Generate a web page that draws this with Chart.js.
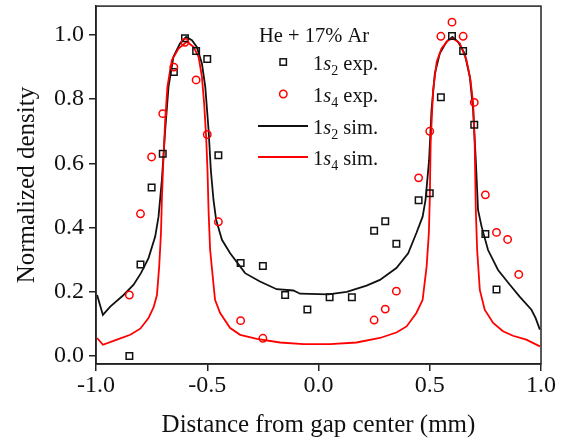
<!DOCTYPE html>
<html>
<head>
<meta charset="utf-8">
<script src="https://cdn.jsdelivr.net/npm/chart.js@4"></script>
<style>
  html, body { margin: 0; padding: 0; background: #fff; }
  #wrap { width: 572px; height: 444px; }
</style>
</head>
<body>
<div id="wrap"><canvas id="densityChart" width="572" height="444"></canvas></div>
<script>
// tick labels
const xTicks = [-1.0, -0.5, 0.0, 0.5, 1.0];
const yTicks = [0.0, 0.2, 0.4, 0.6, 0.8, 1.0];

// 1s2 exp. (squares)
const s2ExpX = [-0.85, -0.80, -0.75, -0.70, -0.65, -0.60, -0.55, -0.50, -0.45, -0.35, -0.25, -0.15, -0.05,
  0.05, 0.15, 0.25, 0.30, 0.35, 0.45, 0.50, 0.55, 0.60, 0.65, 0.70, 0.75, 0.80];
const s2ExpY = [0.00, 0.285, 0.525, 0.63, 0.885, 0.99, 0.95, 0.925, 0.625, 0.29, 0.28, 0.19, 0.145,
  0.183, 0.183, 0.39, 0.42, 0.35, 0.485, 0.507, 0.806, 0.997, 0.95, 0.72, 0.38, 0.207];

// 1s4 exp. (circles)
const s4ExpX = [-0.85, -0.80, -0.75, -0.70, -0.65, -0.60, -0.55, -0.50, -0.45, -0.35, -0.25,
  0.25, 0.30, 0.35, 0.45, 0.50, 0.55, 0.60, 0.65, 0.70, 0.75, 0.80, 0.85, 0.90];
const s4ExpY = [0.19, 0.443, 0.62, 0.755, 0.90, 0.977, 0.86, 0.69, 0.418, 0.11, 0.055,
  0.112, 0.146, 0.202, 0.555, 0.70, 0.996, 1.04, 0.996, 0.79, 0.502, 0.385, 0.363, 0.254];

// 1s2 sim. (black line)
const s2SimX = [-0.995, -0.969, -0.936, -0.876, -0.831, -0.798, -0.764, -0.734, -0.719, -0.704, -0.689, -0.674,
  -0.652, -0.622, -0.595, -0.569, -0.547, -0.524, -0.509, -0.494, -0.484, -0.472, -0.46, -0.434, -0.397,
  -0.33, -0.263, -0.188, -0.113, -0.083, 0.044, 0.127, 0.216, 0.276, 0.35, 0.403, 0.44, 0.468, 0.481,
  0.497, 0.508, 0.523, 0.545, 0.575, 0.602, 0.627, 0.657, 0.68, 0.695, 0.707, 0.717, 0.733, 0.762,
  0.807, 0.86, 0.904, 0.957, 0.976, 0.995];
const s2SimY = [0.19, 0.128, 0.154, 0.19, 0.222, 0.258, 0.305, 0.372, 0.434, 0.548, 0.704, 0.839,
  0.932, 0.974, 0.994, 0.984, 0.963, 0.911, 0.839, 0.704, 0.58, 0.486, 0.424, 0.362, 0.32,
  0.258, 0.232, 0.208, 0.204, 0.194, 0.192, 0.2, 0.219, 0.237, 0.274, 0.32, 0.383, 0.434, 0.486,
  0.61, 0.766, 0.88, 0.942, 0.979, 0.994, 0.979, 0.942, 0.87, 0.766, 0.61, 0.455, 0.403, 0.33,
  0.268, 0.222, 0.185, 0.144, 0.118, 0.082];

// 1s4 sim. (red line)
const s4SimX = [-0.995, -0.969, -0.906, -0.846, -0.801, -0.764, -0.741, -0.726, -0.716, -0.708, -0.704, -0.699,
  -0.689, -0.679, -0.659, -0.629, -0.592, -0.562, -0.539, -0.524, -0.514, -0.505, -0.499, -0.494, -0.487,
  -0.465, -0.442, -0.397, -0.352, -0.277, -0.173, -0.068, 0.052, 0.171, 0.276, 0.35, 0.396, 0.44, 0.468,
  0.486, 0.496, 0.5, 0.504, 0.515, 0.531, 0.553, 0.583, 0.605, 0.635, 0.665, 0.683, 0.695, 0.702,
  0.707, 0.713, 0.725, 0.747, 0.785, 0.829, 0.874, 0.934, 0.995];
const s4SimY = [0.056, 0.035, 0.051, 0.066, 0.085, 0.118, 0.152, 0.19, 0.279, 0.383, 0.486, 0.58,
  0.735, 0.839, 0.922, 0.958, 0.979, 0.963, 0.932, 0.87, 0.787, 0.683, 0.58, 0.45, 0.33,
  0.175, 0.134, 0.087, 0.066, 0.053, 0.042, 0.037, 0.037, 0.042, 0.056, 0.073, 0.092, 0.134, 0.175,
  0.279, 0.383, 0.486, 0.662, 0.828, 0.916, 0.958, 0.984, 0.989, 0.974, 0.922, 0.86, 0.787, 0.662,
  0.455, 0.33, 0.206, 0.144, 0.103, 0.077, 0.063, 0.051, 0.03];

const pts = (xs, ys) => xs.map((x, i) => ({ x: x, y: ys[i] }));

const serif = '"Liberation Serif", "Times New Roman", serif';
const ink = '#111';

// frame around the plot area (top and right sides included)
const framePlugin = {
  id: 'frame',
  afterDraw(chart) {
    const a = chart.chartArea, c = chart.ctx;
    c.save();
    c.strokeStyle = '#222';
    c.lineWidth = 1.5;
    c.strokeRect(a.left, a.top, a.right - a.left, a.bottom - a.top);
    c.restore();
  }
};

// legend with italic s and subscript numbers
const legendPlugin = {
  id: 'richLegend',
  afterDraw(chart) {
    const c = chart.ctx;
    c.save();
    c.fillStyle = ink;
    c.textBaseline = 'alphabetic';
    c.font = '20.5px ' + serif;
    c.fillText('He + 17% Ar', 259, 42);

    const rows = [
      { sub: '2', tail: ' exp.', kind: 'rect', color: ink, y: 62 },
      { sub: '4', tail: ' exp.', kind: 'circle', color: '#f00', y: 94 },
      { sub: '2', tail: ' sim.', kind: 'line', color: ink, y: 126 },
      { sub: '4', tail: ' sim.', kind: 'line', color: '#f00', y: 157 }
    ];
    rows.forEach(r => {
      c.strokeStyle = r.color;
      if (r.kind === 'rect') {
        c.lineWidth = 1.5;
        c.strokeRect(280, r.y - 3.2, 6.4, 6.4);
      } else if (r.kind === 'circle') {
        c.lineWidth = 1.5;
        c.beginPath();
        c.arc(283.3, r.y, 3.7, 0, Math.PI * 2);
        c.stroke();
      } else {
        c.lineWidth = 1.8;
        c.beginPath();
        c.moveTo(258, r.y);
        c.lineTo(308, r.y);
        c.stroke();
      }
      let x = 313;
      const base = r.y + 8;
      c.fillStyle = ink;
      c.font = '20.5px ' + serif;
      c.fillText('1', x, base);
      x += c.measureText('1').width;
      c.font = 'italic 20.5px ' + serif;
      c.fillText('s', x, base);
      x += c.measureText('s').width;
      c.font = '14px ' + serif;
      c.fillText(r.sub, x, base + 5);
      x += c.measureText(r.sub).width;
      c.font = '20.5px ' + serif;
      c.fillText(r.tail, x, base);
    });
    c.restore();
  }
};

const ctx = document.getElementById('densityChart').getContext('2d');
const densityChart = new Chart(ctx, {
  type: 'scatter',
  data: {
    datasets: [
      {
        label: '1s2 exp.',
        data: pts(s2ExpX, s2ExpY),
        pointStyle: 'rect',
        pointRadius: 4.6,
        pointBorderWidth: 1.5,
        borderColor: ink,
        backgroundColor: 'rgba(0,0,0,0)',
        showLine: false,
        order: 1
      },
      {
        label: '1s4 exp.',
        data: pts(s4ExpX, s4ExpY),
        pointStyle: 'circle',
        pointRadius: 3.7,
        pointBorderWidth: 1.5,
        borderColor: '#f00',
        backgroundColor: 'rgba(0,0,0,0)',
        showLine: false,
        order: 0
      },
      {
        label: '1s2 sim.',
        data: pts(s2SimX, s2SimY),
        showLine: true,
        borderColor: ink,
        borderWidth: 1.8,
        pointRadius: 0,
        tension: 0,
        order: 3
      },
      {
        label: '1s4 sim.',
        data: pts(s4SimX, s4SimY),
        showLine: true,
        borderColor: '#f00',
        borderWidth: 1.8,
        pointRadius: 0,
        tension: 0,
        order: 2
      }
    ]
  },
  options: {
    responsive: false,
    animation: false,
    layout: { padding: { top: 5, right: 31, left: 0, bottom: 0 } },
    plugins: {
      legend: { display: false },
      tooltip: { enabled: false }
    },
    scales: {
      x: {
        type: 'linear',
        min: -1,
        max: 1,
        afterFit(scale) {
          scale.height = 80;
          scale.paddingLeft = 0;
          scale.paddingRight = 0;
        },
        afterBuildTicks(scale) { scale.ticks = xTicks.map(v => ({ value: v })); },
        border: { display: true, color: '#222', width: 1.5 },
        grid: { display: true, drawOnChartArea: false, drawTicks: true, tickLength: 7, color: '#222', lineWidth: 1.5 },
        ticks: {
          color: ink,
          padding: 0,
          maxRotation: 0,
          font: { family: serif, size: 24 },
          callback: v => v.toFixed(1)
        },
        title: {
          display: true,
          text: 'Distance from gap center (mm)',
          color: ink,
          font: { family: serif, size: 25 },
          padding: { top: 0, bottom: 4 }
        }
      },
      y: {
        type: 'linear',
        min: -0.025,
        max: 1.09,
        afterFit(scale) {
          scale.width = 96;
          scale.paddingTop = 0;
          scale.paddingBottom = 0;
        },
        afterBuildTicks(scale) { scale.ticks = yTicks.map(v => ({ value: v })); },
        border: { display: true, color: '#222', width: 1.5 },
        grid: { display: true, drawOnChartArea: false, drawTicks: true, tickLength: 7, color: '#222', lineWidth: 1.5 },
        ticks: {
          color: ink,
          padding: 5,
          font: { family: serif, size: 24 },
          callback: v => v.toFixed(1)
        },
        title: {
          display: true,
          text: 'Normalized density',
          color: ink,
          font: { family: serif, size: 25 },
          padding: { top: 12, bottom: 0 }
        }
      }
    }
  },
  plugins: [framePlugin, legendPlugin]
});
</script>
</body>
</html>
